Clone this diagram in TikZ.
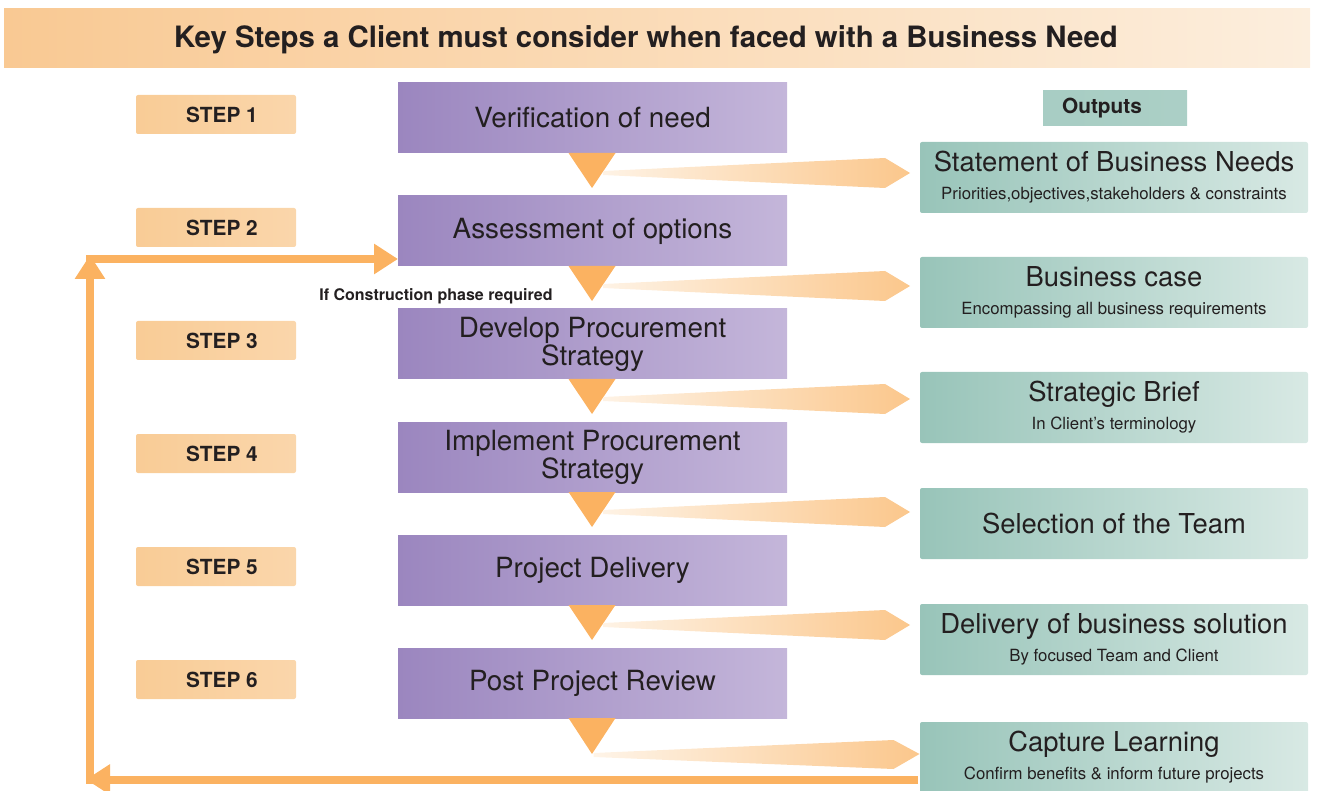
\documentclass[tikz,border=0pt]{standalone}
\usepackage{fontspec}
\setmainfont{TeX Gyre Heros}
\usetikzlibrary{arrows.meta}

\definecolor{bandL}{HTML}{F9C993}
\definecolor{bandR}{HTML}{FCEEDD}
\definecolor{stepL}{HTML}{F9CC96}
\definecolor{stepR}{HTML}{FAD6AB}
\definecolor{purpL}{HTML}{9B86BF}
\definecolor{purpR}{HTML}{C4B6DA}
\definecolor{tealL}{HTML}{98C4B9}
\definecolor{tealR}{HTML}{D8E9E4}
\definecolor{flow}{HTML}{FBB261}
\definecolor{wedgeL}{HTML}{FEF4E8}
\definecolor{wedgeR}{HTML}{FBC78C}
\definecolor{ink}{HTML}{231F20}

\begin{document}
\begin{tikzpicture}[x=0.5pt,y=-0.5pt]
	\tikzstyle{band}=[left color=bandL,right color=bandR,minimum width=653pt,minimum height=29.5pt,inner sep=0pt,outer sep=0pt]
	\tikzstyle{stepbox}=[left color=stepL,right color=stepR,rounded corners=1pt,minimum width=80pt,minimum height=19.5pt,inner sep=0pt,outer sep=0pt,text=ink,font=\fontsize{10.4}{12}\selectfont\bfseries]
	\tikzstyle{phase}=[left color=purpL,right color=purpR,minimum width=194.5pt,minimum height=35pt,inner sep=0pt,outer sep=0pt,align=center,text=ink,font=\fontsize{13.9}{14}\selectfont]
	\tikzstyle{output}=[left color=tealL,right color=tealR,rounded corners=1pt,minimum width=194pt,minimum height=35.5pt,inner sep=0pt,outer sep=0pt,align=center,text=ink,font=\fontsize{13.7}{16}\selectfont]
	\tikzstyle{tri}=[fill=flow]
	\tikzstyle{wedge}=[left color=wedgeL,right color=wedgeR]
	\tikzstyle{loop}=[draw=flow,line width=4pt,-{Triangle[length=12pt,width=14.5pt]}]
	\newcommand{\sub}[1]{\\[-2pt]{\fontsize{8.4}{10}\selectfont #1}}
	\newcommand{\steplabel}[1]{\hspace*{6pt}#1}

	\useasboundingbox (0,0) rectangle (1318,791);

	% heading
	\node[band] (head) at (657,38.5) {};
	\node[text=ink,font=\fontsize{14.7}{16}\selectfont\bfseries] (title) at (646,39.5) {Key Steps a Client must consider when faced with a Business Need};

	% steps
	\node[stepbox] (s1) at (216,114.5) {\steplabel{STEP 1}};
	\node[stepbox] (s2) at (216,227.5) {\steplabel{STEP 2}};
	\node[stepbox] (s3) at (216,340.5) {\steplabel{STEP 3}};
	\node[stepbox] (s4) at (216,453.5) {\steplabel{STEP 4}};
	\node[stepbox] (s5) at (216,566.5) {\steplabel{STEP 5}};
	\node[stepbox] (s6) at (216,679.5) {\steplabel{STEP 6}};

	% phases
	\node[phase] (p1) at (592.5,118) {Verification of need};
	\node[phase] (p2) at (592.5,231) {Assessment of options};
	\node[phase] (p3) at (592.5,344) {Develop Procurement\\Strategy};
	\node[phase] (p4) at (592.5,457) {Implement Procurement\\Strategy};
	\node[phase] (p5) at (592.5,570) {Project Delivery};
	\node[phase] (p6) at (592.5,683) {Post Project Review};

	% outputs
	\node[left color=tealL!85,right color=tealL!70!tealR,minimum width=72pt,minimum height=17.5pt,inner sep=0pt,text=ink,font=\fontsize{10.4}{12}\selectfont\bfseries] (outs) at (1115,108.5) {Outputs\hspace*{13pt}};
	\node[output] (o1) at (1114,177.5) {Statement of Business Needs\sub{Priorities,objectives,stakeholders \& constraints}};
	\node[output] (o2) at (1114,292.5) {Business case\sub{Encompassing all business requirements}};
	\node[output] (o3) at (1114,407.5) {Strategic Brief\sub{In Client's terminology}};
	\node[output] (o4) at (1114,523.5) {Selection of the Team};
	\node[output] (o5) at (1114,639.5) {Delivery of business solution\sub{By focused Team and Client}};
	\node[output] (o6) at (1114,757.5) {Capture Learning\sub{Confirm benefits \& inform future projects}};

	% pointers from each phase to its output
	\foreach \p in {p1,p2,p3,p4,p5}{
		\fill[tri] (\p.south) ++(-24,0) -- ++(47,0) -- ++(-23.5,35) -- cycle;
		\shade[wedge] (\p.south) ++(10.5,18) -- ++(282,-13) -- ++(25,15) -- ++(-25,15) -- ++(-282,-13) -- cycle;
	}
	\fill[tri] (p6.south) ++(-24,0) -- ++(47,0) -- ++(-23.5,36) -- cycle;
	\shade[wedge] (p6.south) ++(1,35) -- ++(300,-13) -- ++(26,14) -- ++(-26,15) -- ++(-300,-12) -- cycle;

	% feedback loop
	\coordinate (fbin) at (918,779.5);
	\coordinate (fbcorner) at (86,779.5);
	\coordinate (fbfoot) at (90,784);
	\coordinate (fbtop) at (90,255);
	\coordinate (fbturn) at (86,259);
	\draw[loop] (fbin) -- (fbcorner);
	\draw[loop] (fbfoot) -- (fbtop);
	\draw[loop] (fbturn) -- (p2.west |- fbturn);

	\node[text=ink,font=\fontsize{8}{10}\selectfont\bfseries] (cond) at (436,296) {If Construction phase required};
\end{tikzpicture}
\end{document}
